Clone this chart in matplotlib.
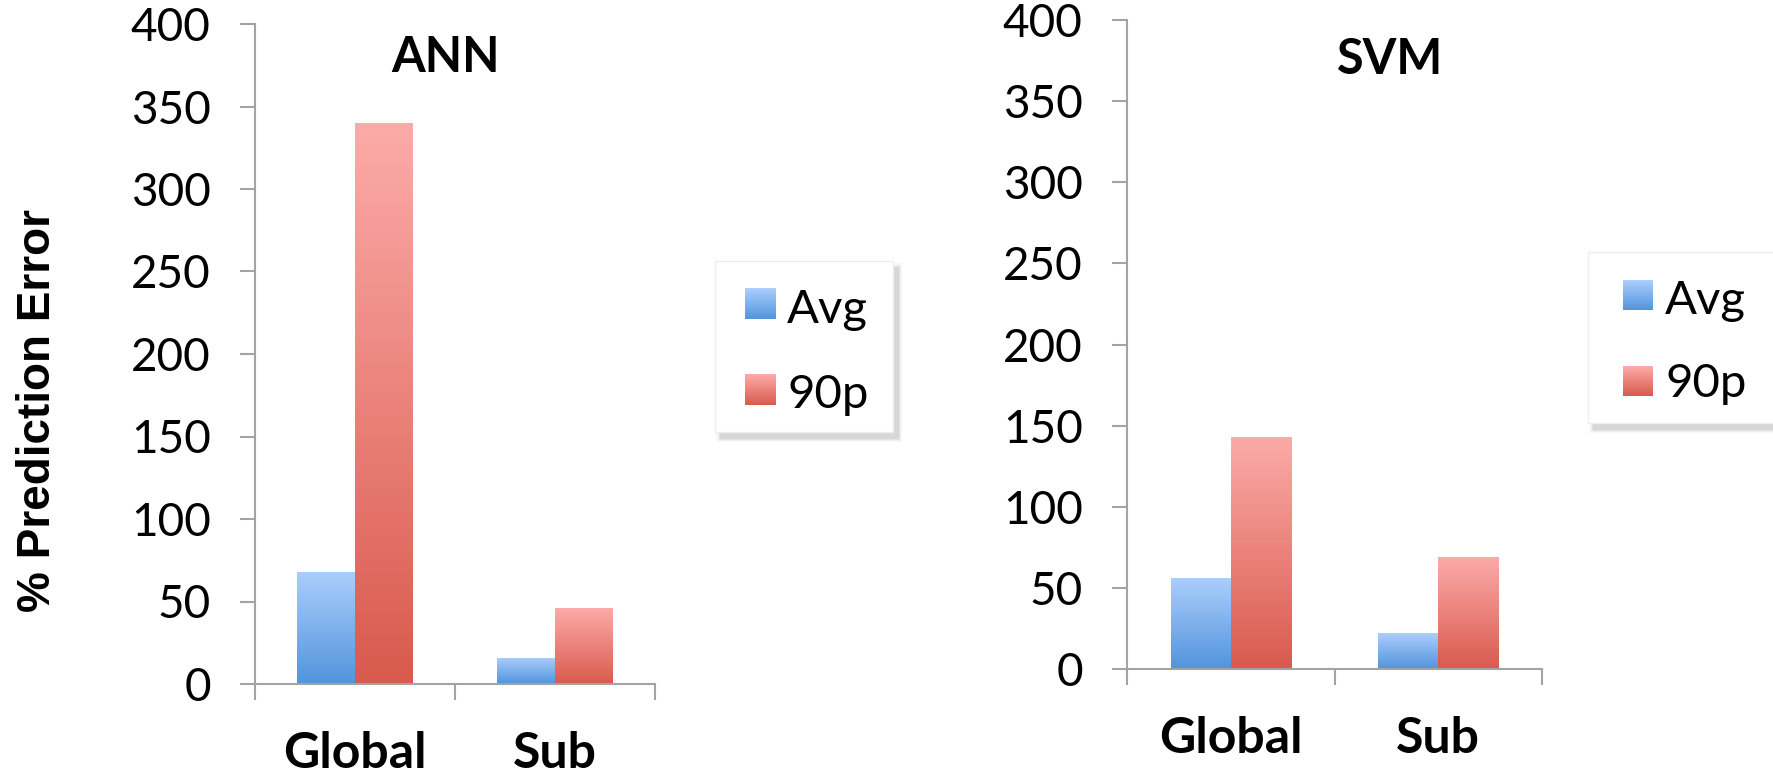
import numpy as np
import matplotlib
matplotlib.use("Agg")
import matplotlib.pyplot as plt
from matplotlib.colors import to_rgb
from matplotlib.patches import Rectangle

plt.rcParams["font.family"] = ["Lato", "DejaVu Sans"]

# ---- data ----
categories = ["Global", "Sub"]
series_names = ["Avg", "90p"]
ann_avg = [68, 16]
ann_90p = [340, 46]
svm_avg = [56, 22]
svm_90p = [143, 69]
y_ticks = [0, 50, 100, 150, 200, 250, 300, 350, 400]

# ---- style ----
W, H = 1773, 775
AXIS_GRAY = "#a3a3a3"
BLUE_TOP, BLUE_BOT = to_rgb("#abcefc"), to_rgb("#5294dc")
RED_TOP, RED_BOT = to_rgb("#fcaba8"), to_rgb("#d95a4e")
TICK_SIZE = 33
BAR_W = 0.29

fig = plt.figure(figsize=(W / 100, H / 100), dpi=100)


def fx(px):
    return px / W


def fy(py):
    return 1 - py / H


def gradient(top, bottom, n=256):
    t = np.linspace(0, 1, n)[:, None]
    return (1 - t) * np.array(bottom) + t * np.array(top)


def shade_bar(ax, patch, top, bottom):
    x, y = patch.get_x(), patch.get_y()
    w, h = patch.get_width(), patch.get_height()
    img = gradient(top, bottom)[:, None, :]
    im = ax.imshow(img, extent=[x, x + w, y, y + h], origin="lower",
                   aspect="auto", interpolation="bilinear",
                   zorder=patch.get_zorder() + 0.1)
    im.set_clip_path(patch)


def draw_panel(rect, avg, p90, title, title_px):
    ax = fig.add_axes(rect)
    x = np.arange(len(categories))
    bars_a = ax.bar(x - BAR_W / 2, avg, BAR_W, color=BLUE_BOT, linewidth=0, zorder=2)
    bars_p = ax.bar(x + BAR_W / 2, p90, BAR_W, color=RED_BOT, linewidth=0, zorder=2)
    for p in bars_a:
        shade_bar(ax, p, BLUE_TOP, BLUE_BOT)
    for p in bars_p:
        shade_bar(ax, p, RED_TOP, RED_BOT)

    ax.set_xlim(-0.5, len(categories) - 0.5)
    ax.set_ylim(y_ticks[0], y_ticks[-1])
    ax.set_yticks(y_ticks)
    ax.set_yticklabels([str(v) for v in y_ticks])

    # category separators as major ticks, names as minor ticks
    ax.set_xticks(np.arange(len(categories) + 1) - 0.5)
    ax.set_xticklabels([])
    ax.set_xticks(x, minor=True)
    ax.set_xticklabels(categories, minor=True, fontweight="bold")

    ax.tick_params(axis="x", which="major", direction="out", length=11.5,
                   width=1.5, color=AXIS_GRAY)
    ax.tick_params(axis="x", which="minor", length=0, pad=34,
                   labelsize=36)
    ax.tick_params(axis="y", direction="out", length=10.8, width=1.5,
                   color=AXIS_GRAY, pad=21, labelsize=TICK_SIZE)

    for s in ("top", "right"):
        ax.spines[s].set_visible(False)
    for s in ("left", "bottom"):
        ax.spines[s].set_color(AXIS_GRAY)
        ax.spines[s].set_linewidth(1.5)
        ax.spines[s].set_zorder(5)
    ax.set_facecolor("none")

    fig.text(fx(title_px[0]), fy(title_px[1]), title, ha="center", va="center",
             fontsize=35, fontweight="bold")
    return ax


def draw_legend(left, top, width, height, sw_x, sw_size, rows, text_x):
    # soft drop shadow toward the lower right
    for spread, alpha in [(8, 0.05), (5, 0.07), (3, 0.09), (1, 0.12)]:
        fig.add_artist(Rectangle(
            (fx(left + 5 - spread / 2), fy(top + height + 6 + spread / 2)),
            (width + spread) / W, (height + spread) / H,
            transform=fig.transFigure, facecolor="#808080", edgecolor="none",
            alpha=alpha, zorder=8))
    fig.add_artist(Rectangle((fx(left), fy(top + height)), width / W, height / H,
                             transform=fig.transFigure, facecolor="white",
                             edgecolor="#eeeeee", linewidth=1, zorder=9))
    for (label, sw_top, baseline), (ctop, cbot) in zip(
            rows, [(BLUE_TOP, BLUE_BOT), (RED_TOP, RED_BOT)]):
        cols = gradient(ctop, cbot, n=sw_size)
        for i in range(sw_size):
            yb = sw_top + sw_size - i
            fig.add_artist(Rectangle((fx(sw_x), fy(yb)), sw_size / W, 1.05 / H,
                                     transform=fig.transFigure,
                                     facecolor=cols[i], edgecolor="none",
                                     zorder=10))
        fig.text(fx(text_x), fy(baseline), label, ha="left", va="baseline",
                 fontsize=34, zorder=11)


draw_panel([fx(255), fy(684), 400 / W, 660 / H], ann_avg, ann_90p, "ANN", (446, 58))
draw_panel([fx(1127), fy(669), 415 / W, 649 / H], svm_avg, svm_90p, "SVM", (1390, 59))

fig.text(fx(38), fy(410), "% Prediction Error", rotation=90, ha="center",
         va="center", fontsize=33, fontweight="bold",
         family=["Liberation Sans", "DejaVu Sans"])

draw_legend(715, 261, 178, 171, 745, 31,
            [(series_names[0], 288, 323), (series_names[1], 374, 408)], 787)
draw_legend(1588, 252, 190, 171, 1623, 30,
            [(series_names[0], 280, 314), (series_names[1], 366, 397)], 1665)

fig.savefig("out.png", dpi=100)
